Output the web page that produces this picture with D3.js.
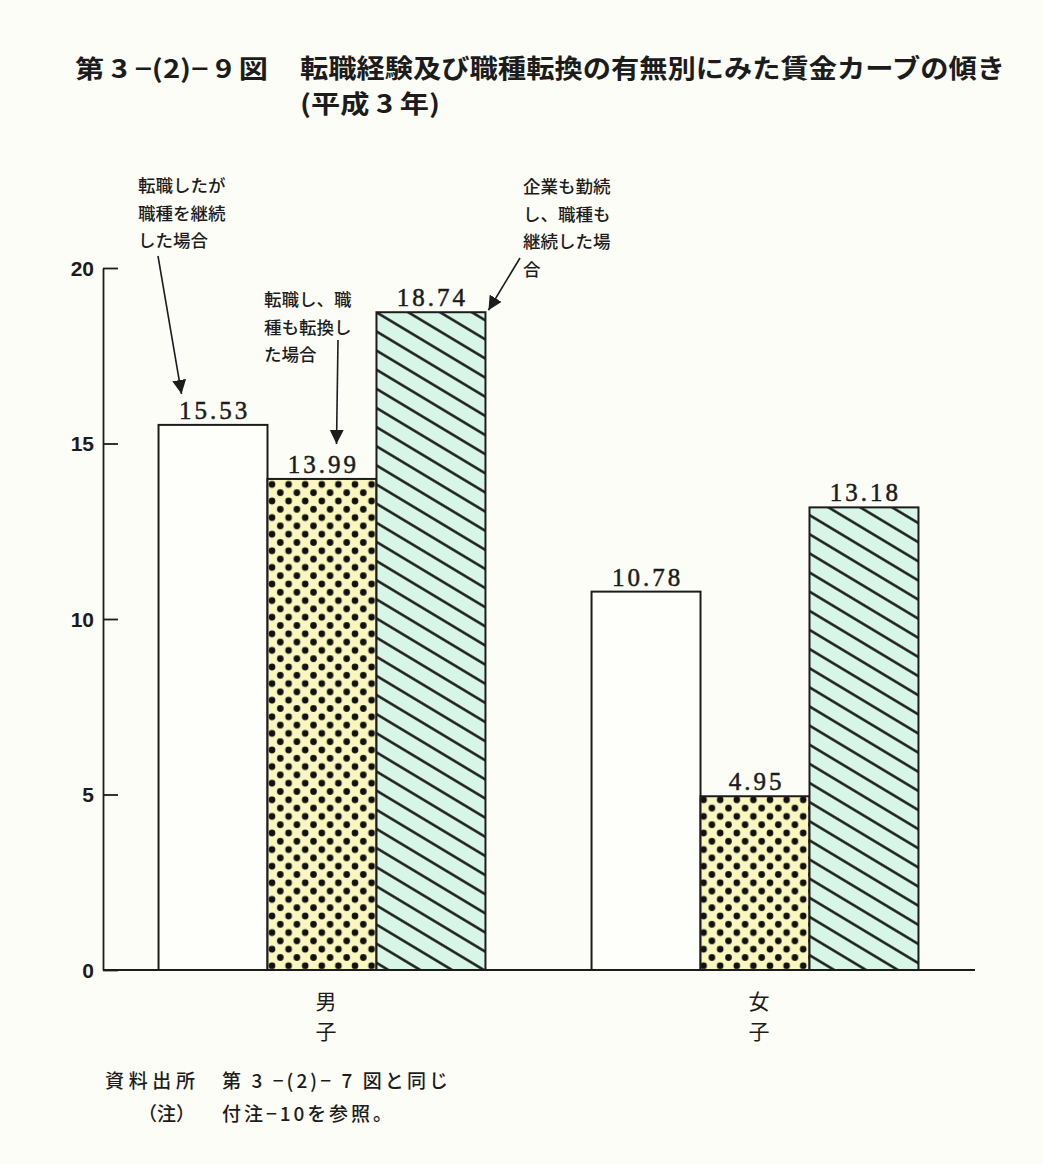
<!DOCTYPE html>
<html>
<head>
<meta charset="utf-8">
<script src="https://cdn.jsdelivr.net/npm/d3@7"></script>
<style>
  html, body { margin: 0; padding: 0; background: #fdfdf8; }
  svg { display: block; }
</style>
</head>
<body>
<svg id="chart" width="1043" height="1164"></svg>
<script>
// Wage-curve slope by job-change experience, 1991 (平成3年)
const groups = ["男子", "女子"];
const seriesKeys = ["same-occupation", "changed-occupation", "stayed"];
const maleValues = [15.53, 13.99, 18.74];
const femaleValues = [10.78, 4.95, 13.18];
const yTicks = [0, 5, 10, 15, 20];
const annotationLines = [
  ["転職したが", "職種を継続", "した場合"],
  ["転職し、職", "種も転換し", "た場合"],
  ["企業も勤続", "し、職種も", "継続した場", "合"]
];
const titleNumber = "第 3 −(2)− 9 図";
const titleLines = ["転職経験及び職種転換の有無別にみた賃金カーブの傾き", "(平成 3 年)"];
const sourceLines = [["資料出所", "第 3 −(2)− 7 図と同じ"], ["（注）", "付注−10を参照。"]];

const valuesByGroup = { "男子": maleValues, "女子": femaleValues };

const svg = d3.select("#chart");
const ink = "#1c1c1c";
const cjk = "'Noto Sans CJK JP', 'Noto Sans CJK SC', sans-serif";

svg.append("rect").attr("width", 1043).attr("height", 1164).attr("fill", "#fdfdf8");

// Fill patterns: dotted (yellow) and diagonal hatch (mint)
const defs = svg.append("defs");
const dp = 16.6;
const dots = defs.append("pattern")
  .attr("id", "dots").attr("patternUnits", "userSpaceOnUse")
  .attr("width", dp).attr("height", dp)
  .attr("x", 272).attr("y", 3);
dots.append("rect").attr("width", dp).attr("height", dp).attr("fill", "#f9f6bf");
[[0, 0], [dp, 0], [0, dp], [dp, dp], [dp / 2, dp / 2]].forEach(([cx, cy]) =>
  dots.append("circle").attr("cx", cx).attr("cy", cy).attr("r", 3.3).attr("fill", "#111"));

const hp = 16.4;
const hatch = defs.append("pattern")
  .attr("id", "hatch").attr("patternUnits", "userSpaceOnUse")
  .attr("width", 40).attr("height", hp)
  .attr("patternTransform", "rotate(31)");
hatch.append("rect").attr("width", 40).attr("height", hp).attr("fill", "#d8f6e8");
hatch.append("line").attr("x1", 0).attr("x2", 40).attr("y1", hp / 2).attr("y2", hp / 2)
  .attr("stroke", "#111").attr("stroke-width", 2.2);

const fills = ["#fefefb", "url(#dots)", "url(#hatch)"];

// Scales
const y = d3.scaleLinear().domain([0, 20]).range([970, 268]);
const x0 = d3.scaleBand().domain(groups).range([107, 970]).paddingInner(0.245).paddingOuter(0.119);
const x1 = d3.scaleBand().domain(seriesKeys).range([0, x0.bandwidth()]);

// Title
svg.append("text").attr("x", 75).attr("y", 78)
  .attr("font-family", cjk).attr("font-weight", 700).attr("font-size", 25)
  .attr("fill", ink).attr("textLength", 193).attr("lengthAdjust", "spacingAndGlyphs")
  .text(titleNumber);
svg.append("text").attr("x", 300).attr("y", 78)
  .attr("font-family", cjk).attr("font-weight", 700).attr("font-size", 26)
  .attr("fill", ink).attr("textLength", 705).attr("lengthAdjust", "spacingAndGlyphs")
  .text(titleLines[0]);
svg.append("text").attr("x", 300).attr("y", 113)
  .attr("font-family", cjk).attr("font-weight", 700).attr("font-size", 25)
  .attr("fill", ink).attr("textLength", 140).attr("lengthAdjust", "spacingAndGlyphs")
  .text(titleLines[1]);

// Bars
const barData = groups.flatMap(g => seriesKeys.map((k, i) => ({
  group: g, key: k, idx: i, value: valuesByGroup[g][i]
})));

const barX = d => x0(d.group) + x1(d.key);

svg.append("g").selectAll("rect").data(barData).join("rect")
  .attr("x", barX)
  .attr("y", d => y(d.value))
  .attr("width", x1.bandwidth())
  .attr("height", d => y(0) - y(d.value))
  .attr("fill", d => fills[d.idx])
  .attr("stroke", ink).attr("stroke-width", 2);

// Value labels
svg.append("g").selectAll("text").data(barData).join("text")
  .attr("x", d => barX(d) + x1.bandwidth() / 2 + 1.5)
  .attr("y", d => y(d.value) - 6)
  .attr("text-anchor", "middle")
  .attr("font-family", "'Liberation Serif', 'DejaVu Serif', serif")
  .attr("font-size", 25).attr("letter-spacing", 3)
  .attr("stroke", ink).attr("stroke-width", 0.5)
  .attr("fill", ink)
  .text(d => d.value.toFixed(2));

// Y axis: ticks point inward, domain ends at the top tick
const yAxis = d3.axisLeft(y).tickValues(yTicks).tickSize(-15).tickSizeOuter(0).tickPadding(9);
const ag = svg.append("g").attr("transform", "translate(103,0)").call(yAxis);
ag.selectAll("path, line").attr("stroke", ink).attr("stroke-width", 1.8);
ag.selectAll("text")
  .attr("font-family", "'Liberation Sans Narrow', 'Liberation Sans', sans-serif")
  .attr("font-weight", 700).attr("font-size", 21).attr("fill", ink)
  .attr("dy", "0.35em");

// Baseline
svg.append("line").attr("x1", 103).attr("x2", 975).attr("y1", y(0)).attr("y2", y(0))
  .attr("stroke", ink).attr("stroke-width", 2);

// Category labels (vertical)
groups.forEach(g => {
  const cx = x0(g) + x0.bandwidth() / 2 + 4;
  Array.from(g).forEach((ch, i) => {
    svg.append("text").attr("x", cx).attr("y", 1009 + i * 30)
      .attr("text-anchor", "middle").attr("font-family", cjk)
      .attr("font-size", 21).attr("fill", ink).text(ch);
  });
});

// Annotations with arrows
defs.append("marker").attr("id", "arrow").attr("viewBox", "0 0 10 10")
  .attr("refX", 10).attr("refY", 5).attr("markerWidth", 14).attr("markerHeight", 14)
  .attr("markerUnits", "userSpaceOnUse")
  .attr("orient", "auto")
  .append("path").attr("d", "M0,0 L10,5 L0,10 z").attr("fill", ink);

const maleBar = i => barData[i];
const annotations = [
  { lines: annotationLines[0], tx: 138, ty: 192,
    from: [158, 256], to: [barX(maleBar(0)) + 23, y(maleBar(0).value) - 31] },
  { lines: annotationLines[1], tx: 264, ty: 306,
    from: [338, 340], to: [barX(maleBar(1)) + 69, y(maleBar(1).value) - 35] },
  { lines: annotationLines[2], tx: 523, ty: 193,
    from: [520, 258], to: [barX(maleBar(2)) + x1.bandwidth() + 3, y(maleBar(2).value) - 2] }
];

annotations.forEach(a => {
  a.lines.forEach((ln, i) => {
    svg.append("text").attr("x", a.tx).attr("y", a.ty + i * 27.5)
      .attr("font-family", cjk).attr("font-weight", 500)
      .attr("font-size", 17.5).attr("fill", ink)
      .text(ln);
  });
  svg.append("line")
    .attr("x1", a.from[0]).attr("y1", a.from[1])
    .attr("x2", a.to[0]).attr("y2", a.to[1])
    .attr("stroke", ink).attr("stroke-width", 1.6)
    .attr("marker-end", "url(#arrow)");
});

// Source and note
const sourceLayout = [
  { lx: 105, lw: 90, rw: 226 },
  { lx: 138, lw: null, rw: 170 }
];
sourceLines.forEach((ln, i) => {
  const yy = 1088 + i * 33;
  const L = sourceLayout[i];
  const left = svg.append("text").attr("x", L.lx).attr("y", yy)
    .attr("font-family", cjk).attr("font-weight", 500).attr("font-size", 19).attr("fill", ink)
    .text(ln[0]);
  if (L.lw) left.attr("textLength", L.lw).attr("lengthAdjust", "spacing");
  svg.append("text").attr("x", 222).attr("y", yy)
    .attr("font-family", cjk).attr("font-weight", 500).attr("font-size", 19).attr("fill", ink)
    .attr("textLength", L.rw).attr("lengthAdjust", "spacing").text(ln[1]);
});
</script>
</body>
</html>
